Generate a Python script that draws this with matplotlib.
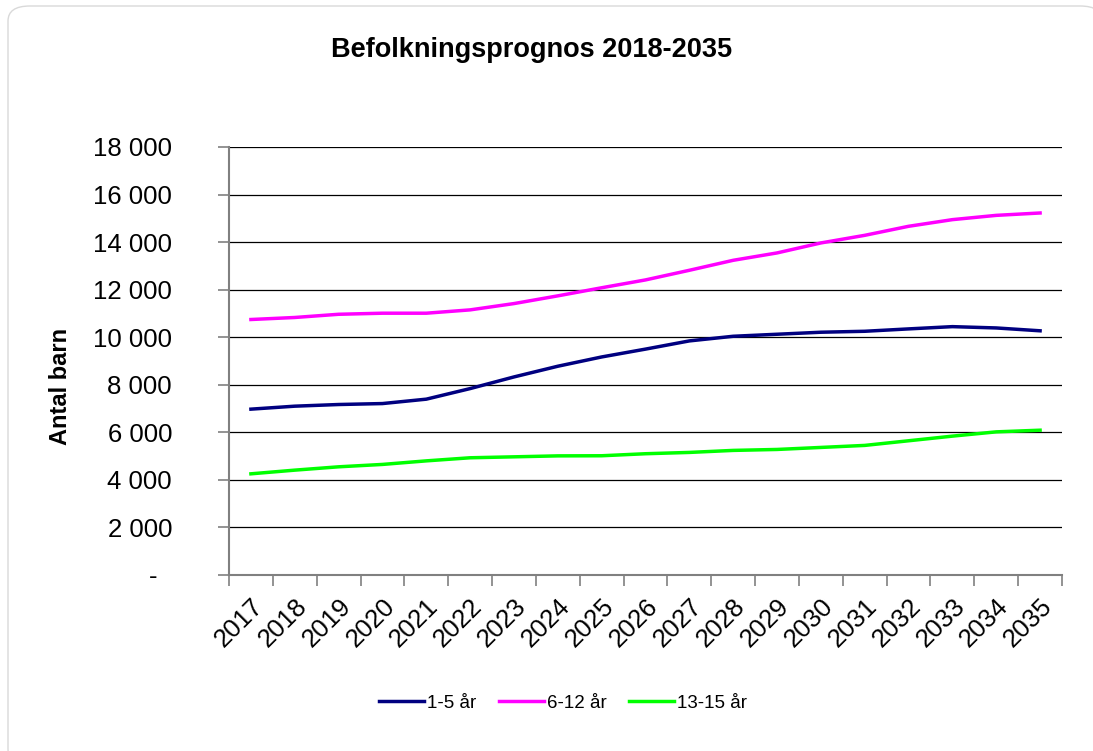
import matplotlib
matplotlib.use('agg')
import matplotlib.pyplot as plt
from matplotlib.patches import FancyBboxPatch
from matplotlib.ticker import FixedLocator, FuncFormatter

plt.rcParams['font.family'] = ['Liberation Sans', 'DejaVu Sans']

years = [str(y) for y in range(2017, 2036)]
age_1_5 = [6975, 7100, 7170, 7210, 7395, 7840, 8330, 8780, 9170, 9500,
           9845, 10040, 10125, 10210, 10250, 10350, 10445, 10390, 10270]
age_6_12 = [10745, 10830, 10965, 11010, 11010, 11150, 11415, 11740, 12080, 12410,
            12815, 13235, 13545, 13965, 14285, 14665, 14945, 15125, 15225]
age_13_15 = [4255, 4410, 4550, 4650, 4800, 4930, 4970, 5010, 5015, 5100,
             5155, 5240, 5280, 5365, 5450, 5645, 5840, 6020, 6090]
series_names = ['1-5 år', '6-12 år', '13-15 år']
y_ticks = list(range(0, 18001, 2000))

fig = plt.figure(figsize=(10.93, 7.51), dpi=100)
# light rounded frame, corners just at the picture's edges
frame = FancyBboxPatch((8 / 1093, 1 - 764 / 751), 1094 / 1093, 758 / 751,
                       transform=fig.transFigure,
                       boxstyle='round,pad=0,rounding_size=0.02', fc='white',
                       ec='#d9d9d9', lw=1.0, zorder=-10)
fig.patches.append(frame)

ax = fig.add_axes([229 / 1093, 176 / 751, 833 / 1093, 428 / 751])
x = range(len(years))
ax.plot(x, age_1_5, color='#000080', lw=2.5, label=series_names[0])
ax.plot(x, age_6_12, color='#ff00ff', lw=2.5, label=series_names[1])
ax.plot(x, age_13_15, color='#00ff00', lw=2.5, label=series_names[2])

ax.set_xlim(-0.5, len(years) - 0.5)
ax.set_ylim(0, 18000)
ax.set_yticks(y_ticks)
ax.yaxis.set_major_formatter(FuncFormatter(
    lambda v, p: '-  ' if v == 0 else f'{int(v):,}'.replace(',', ' ')))
ax.yaxis.grid(True, color='black', lw=0.9)
ax.set_axisbelow(True)

# ticks between categories, labels on the categories
ax.xaxis.set_major_locator(FixedLocator([i - 0.5 for i in range(len(years) + 1)]))
ax.xaxis.set_minor_locator(FixedLocator(list(x)))
ax.set_xticklabels([], minor=False)
ax.set_xticklabels(years, minor=True, rotation=45, ha='right', va='top',
                   rotation_mode='anchor', fontsize=18.5)
ax.tick_params(axis='x', which='minor', length=0, pad=14)
ax.tick_params(axis='x', which='major', length=8, color='#808080', width=1.2)
ax.tick_params(axis='y', length=8, color='#808080', width=1.2, labelsize=18.5, pad=33)

for s in ['top', 'right']:
    ax.spines[s].set_visible(False)
for s in ['left', 'bottom']:
    ax.spines[s].set_color('#808080')
    ax.spines[s].set_linewidth(1.5)

ax.set_ylabel('Antal barn', fontsize=17, fontweight='bold', labelpad=0)
ax.yaxis.set_label_coords(-157 / 833, 0.44)
fig.text(532 / 1093, 1 - 50 / 751, 'Befolkningsprognos 2018-2035', ha='center',
         va='center', fontsize=19.5, fontweight='bold')

fig.legend(loc='center', bbox_to_anchor=(563 / 1093, 48 / 751), ncol=3,
           frameon=False, fontsize=13.5, handlelength=2.4, handletextpad=0.15,
           columnspacing=1.2)

fig.savefig('out.png', dpi=100)
